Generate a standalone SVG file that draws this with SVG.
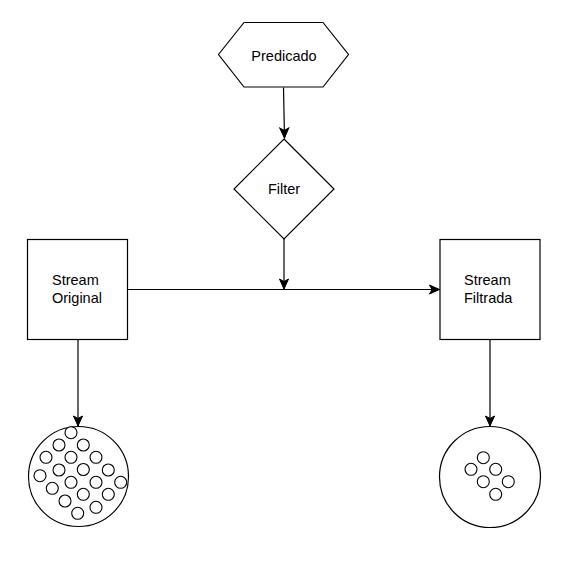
<svg xmlns="http://www.w3.org/2000/svg" width="579" height="566" viewBox="0 0 579 566">
<style>
.shape{fill:#fff;stroke:#000;stroke-width:1.2}
.dot{fill:#fff;stroke:#000;stroke-width:1.1}
.edge{fill:none;stroke:#000;stroke-width:1.2}
text{font-family:"Liberation Sans",Arial,sans-serif;font-size:14.5px;fill:#000}
.c{text-anchor:middle}
</style>
<defs>
<marker id="arr" markerUnits="userSpaceOnUse" markerWidth="14" markerHeight="12" viewBox="-11 -6 12 12" refX="0" refY="0" orient="auto">
<path d="M-10,-4.5 L0,0 L-10,4.5 L-7.5,0 Z" fill="#000" stroke="#000" stroke-width="1"/>
</marker>
</defs>
<rect width="579" height="566" fill="#fff"/>
<g id="connectors">
<path class="edge" d="M283.5,87.5 L284.5,138" marker-end="url(#arr)"/>
<path class="edge" d="M284,239 L284,289" marker-end="url(#arr)"/>
<path class="edge" d="M127.5,289.5 L439.5,289.5" marker-end="url(#arr)"/>
<path class="edge" d="M78,339.5 L78,426" marker-end="url(#arr)"/>
<path class="edge" d="M490,339.5 L490,426" marker-end="url(#arr)"/>
</g>
<g id="predicado">
<polygon class="shape" points="218.5,54.5 244,22.5 323,22.5 348.5,54.5 323,87 244,87"/>
<text class="c" x="284" y="60.5">Predicado</text>
</g>
<g id="filter">
<polygon class="shape" points="284,139 334,189 284,239 234,189"/>
<text class="c" x="284" y="194">Filter</text>
</g>
<g id="stream-original">
<rect class="shape" x="27.5" y="239.5" width="100" height="100"/>
<text x="52" y="285">Stream</text>
<text x="52" y="302.5">Original</text>
</g>
<g id="stream-filtrada">
<rect class="shape" x="440" y="239.5" width="100" height="100"/>
<text x="464" y="285">Stream</text>
<text x="464" y="302.5">Filtrada</text>
</g>
<g id="original-set">
<circle class="shape" cx="78.5" cy="476.5" r="50"/>
<circle class="dot" cx="71" cy="432.7" r="6"/>
<circle class="dot" cx="59" cy="445" r="6"/>
<circle class="dot" cx="83.3" cy="445" r="6"/>
<circle class="dot" cx="46" cy="457.3" r="6"/>
<circle class="dot" cx="71" cy="457.3" r="6"/>
<circle class="dot" cx="96" cy="457.3" r="6"/>
<circle class="dot" cx="59" cy="470" r="6"/>
<circle class="dot" cx="83.3" cy="469.5" r="6"/>
<circle class="dot" cx="108.3" cy="470" r="6"/>
<circle class="dot" cx="40" cy="475.7" r="6"/>
<circle class="dot" cx="71" cy="482.3" r="6"/>
<circle class="dot" cx="96" cy="482.3" r="6"/>
<circle class="dot" cx="120.7" cy="482.3" r="6"/>
<circle class="dot" cx="52.3" cy="488.3" r="6"/>
<circle class="dot" cx="83.3" cy="494.3" r="6"/>
<circle class="dot" cx="108.3" cy="494.3" r="6"/>
<circle class="dot" cx="65" cy="501" r="6"/>
<circle class="dot" cx="96" cy="507.3" r="6"/>
<circle class="dot" cx="77.7" cy="513.3" r="6"/>
</g>
<g id="filtered-set">
<circle class="shape" cx="490" cy="477" r="50.5"/>
<circle class="dot" cx="483.3" cy="457.7" r="6"/>
<circle class="dot" cx="471" cy="469.3" r="6"/>
<circle class="dot" cx="495.7" cy="469.3" r="6"/>
<circle class="dot" cx="483.3" cy="481.7" r="6"/>
<circle class="dot" cx="508.3" cy="481.7" r="6"/>
<circle class="dot" cx="495.7" cy="494.3" r="6"/>
</g>
</svg>
